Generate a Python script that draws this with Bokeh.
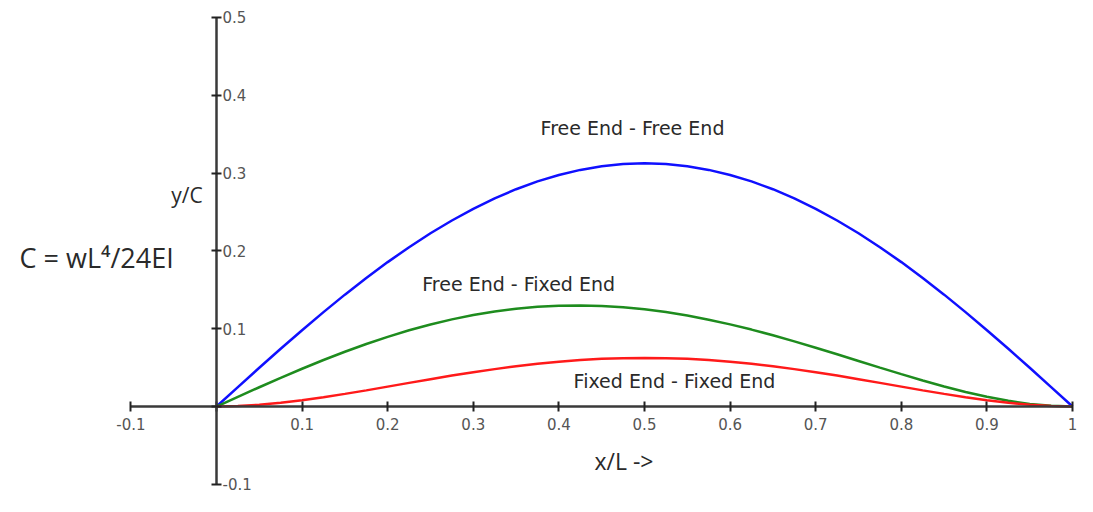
from bokeh.plotting import figure
from bokeh.models import Range1d, FixedTicker, CustomJSTickFormatter
from bokeh.core.properties import value
from bokeh.embed import file_html
from bokeh.resources import INLINE

# x/L positions
x_pos = [0.0, 0.025, 0.05, 0.075, 0.1, 0.125, 0.15, 0.175, 0.2, 0.225, 0.25, 0.275,
         0.3, 0.325, 0.35, 0.375, 0.4, 0.425, 0.45, 0.475, 0.5, 0.525, 0.55, 0.575,
         0.6, 0.625, 0.65, 0.675, 0.7, 0.725, 0.75, 0.775, 0.8, 0.825, 0.85, 0.875,
         0.9, 0.925, 0.95, 0.975, 1.0]
# y/C
free_free = [0.0, 0.0250, 0.0498, 0.0742, 0.0981, 0.1213, 0.1438, 0.1652, 0.1856, 0.2048,
             0.2227, 0.2391, 0.2541, 0.2675, 0.2793, 0.2893, 0.2976, 0.3041, 0.3088, 0.3116,
             0.3125, 0.3116, 0.3088, 0.3041, 0.2976, 0.2893, 0.2793, 0.2675, 0.2541, 0.2391,
             0.2227, 0.2048, 0.1856, 0.1652, 0.1438, 0.1213, 0.0981, 0.0742, 0.0498, 0.0250, 0.0]
free_fixed = [0.0, 0.0125, 0.0248, 0.0369, 0.0486, 0.0598, 0.0704, 0.0804, 0.0896, 0.0980,
              0.1055, 0.1120, 0.1176, 0.1222, 0.1257, 0.1282, 0.1296, 0.1300, 0.1293, 0.1276,
              0.1250, 0.1214, 0.1169, 0.1116, 0.1056, 0.0989, 0.0916, 0.0838, 0.0756, 0.0672,
              0.0586, 0.0500, 0.0416, 0.0335, 0.0258, 0.0188, 0.0126, 0.0074, 0.0034, 0.0009, 0.0]
fixed_fixed = [0.0, 0.0006, 0.0023, 0.0048, 0.0081, 0.0120, 0.0163, 0.0208, 0.0256, 0.0304,
               0.0352, 0.0398, 0.0441, 0.0481, 0.0518, 0.0549, 0.0576, 0.0597, 0.0613, 0.0622,
               0.0625, 0.0622, 0.0613, 0.0597, 0.0576, 0.0549, 0.0518, 0.0481, 0.0441, 0.0398,
               0.0352, 0.0304, 0.0256, 0.0208, 0.0163, 0.0120, 0.0081, 0.0048, 0.0023, 0.0006, 0.0]

x_ticks = [-0.1, 0.0, 0.1, 0.2, 0.3, 0.4, 0.5, 0.6, 0.7, 0.8, 0.9, 1.0]
y_ticks = [-0.1, 0.0, 0.1, 0.2, 0.3, 0.4, 0.5]

curve_labels = ["Free End - Free End", "Free End - Fixed End", "Fixed End - Fixed End"]
curve_label_x = [0.486, 0.353, 0.535]
curve_label_y = [0.358, 0.158, 0.033]

p = figure(width=1077, height=496, output_backend="svg", toolbar_location=None,
           x_range=Range1d(-0.2523, 1.0058), y_range=Range1d(-0.1156, 0.5218),
           min_border=0, x_axis_location="below", y_axis_location="right")
p.outline_line_color = None
p.xgrid.visible = False
p.ygrid.visible = False
p.background_fill_color = "white"

fmt = CustomJSTickFormatter(code="return Math.abs(tick) < 1e-9 ? '' : (Math.round(tick*10)/10).toString();")

for ax, ticks in ((p.xaxis[0], x_ticks), (p.yaxis[0], y_ticks)):
    ax.fixed_location = 0
    ax.bounds = (ticks[0], ticks[-1])
    ax.ticker = FixedTicker(ticks=ticks, minor_ticks=[])
    ax.formatter = fmt
    ax.axis_line_color = "#3a3a3a"
    ax.axis_line_width = 2.5
    ax.major_tick_line_color = "#222222"
    ax.major_tick_line_width = 2
    ax.major_tick_in = 5
    ax.major_tick_out = 5
    ax.minor_tick_line_color = None
    ax.major_label_text_font = "DejaVu Sans"
    ax.major_label_text_font_size = "15px"
    ax.major_label_text_color = "#555555"

p.xaxis[0].major_label_standoff = 6
p.yaxis[0].major_label_standoff = 1

p.line(x_pos, free_free, line_color="#1010ff", line_width=2.5)
p.line(x_pos, free_fixed, line_color="#1e8c1e", line_width=2.5)
p.line(x_pos, fixed_fixed, line_color="#ff1a1a", line_width=2.5)

p.text(x=curve_label_x, y=curve_label_y, text=curve_labels,
       text_font=value("DejaVu Sans"), text_font_size="19px", text_color="#2a2a2a",
       text_align="center", text_baseline="middle")

p.text(x=[-0.0345], y=[0.272], text=["y/C"], text_font=value("Open Sans"),
       text_font_size="21px", text_color="#2a2a2a", text_align="center", text_baseline="middle")
p.text(x=[-0.230], y=[0.191], text=["C = wL⁴/24EI"], text_font=value("Open Sans"),
       text_font_size="27px", text_color="#2a2a2a", text_align="left", text_baseline="middle")
p.text(x=[0.476], y=[-0.070], text=["x/L ->"], text_font=value("Open Sans"),
       text_font_size="23px", text_color="#2a2a2a", text_align="center", text_baseline="middle")

open("out.html", "w").write(file_html(p, INLINE))
